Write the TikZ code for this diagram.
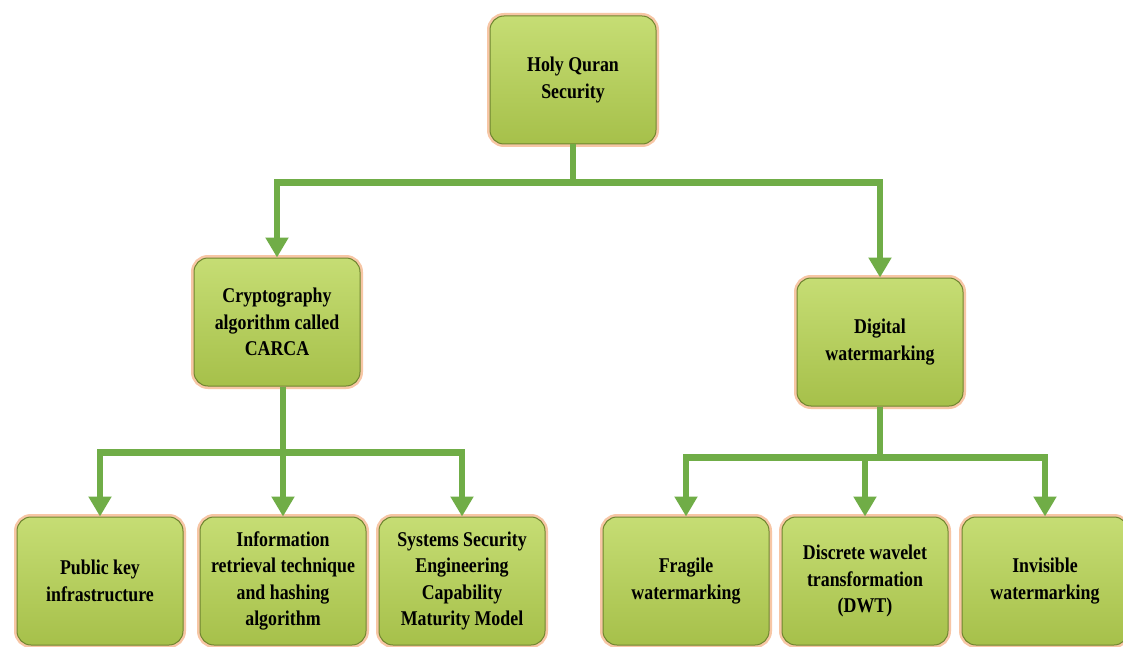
\documentclass[tikz,border=0pt]{standalone}
\usepackage{fontspec}
\setmainfont{Liberation Serif}
\newfontfamily\boxfont[FakeStretch=0.85]{Liberation Serif}
\usetikzlibrary{arrows.meta}
\definecolor{boxlight}{HTML}{C6DD74}
\definecolor{boxdark}{HTML}{A6C04A}
\definecolor{glow}{HTML}{F7C6A5}
\definecolor{edge}{HTML}{6F8530}
\definecolor{linkgreen}{HTML}{70AD47}
\begin{document}
\begin{tikzpicture}[x=1pt,y=-1pt,
  box/.style={rounded corners=14pt, minimum width=166pt, minimum height=128pt, align=center, inner sep=2pt,
    top color=boxlight, bottom color=boxdark, draw=edge, line width=1pt,
    preaction={draw=glow, line width=6pt},
    font=\boxfont\bfseries\fontsize{21}{26.5}\selectfont},
  link/.style={draw=linkgreen, line width=6.5pt, -{Triangle[width=22pt,length=20pt]}}]
\path[use as bounding box, fill=white] (0,0) rectangle (1123,647);
\node[box] (holy) at (573,80) {Holy Quran\\Security};
\node[box] (crypto) at (277,322) {Cryptography\\algorithm called\\CARCA};
\node[box] (digital) at (880,342) {Digital\\watermarking};
\node[box] (pki) at (100,581) {Public key\\infrastructure};
\node[box] (info) at (283,581) {Information\\retrieval technique\\and hashing\\algorithm};
\node[box] (sse) at (462,581) {Systems Security\\Engineering\\Capability\\Maturity Model};
\node[box] (fragile) at (686,581) {Fragile\\watermarking};
\node[box] (dwt) at (865,581) {Discrete wavelet\\transformation\\(DWT)};
\node[box] (invis) at (1045,581) {Invisible\\watermarking};
\draw[link] (holy.south) -- ++(0,38) -| (crypto.north);
\draw[link] (holy.south) -- ++(0,38) -| (digital.north);
\draw[link] (crypto.south -| info.north) -- (info.north);
\draw[link] (crypto.south -| info.north) -- ++(0,66) -| (pki.north);
\draw[link] (crypto.south -| info.north) -- ++(0,66) -| (sse.north);
\draw[link] (digital.south) -- ++(0,51) -| (fragile.north);
\draw[link] (digital.south) -- ++(0,51) -| (dwt.north);
\draw[link] (digital.south) -- ++(0,51) -| (invis.north);
\end{tikzpicture}
\end{document}
